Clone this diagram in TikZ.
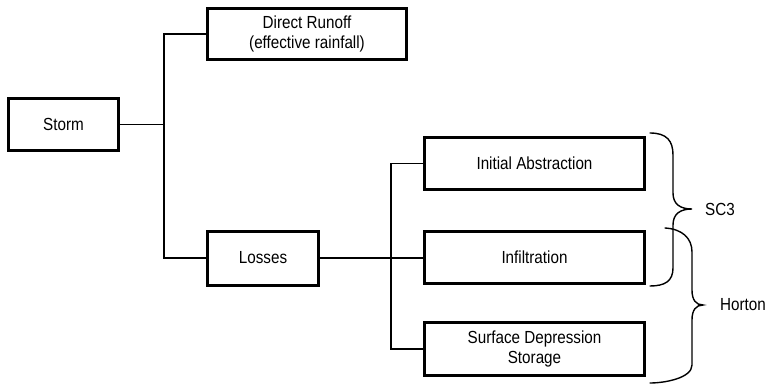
\documentclass[tikz,border=0pt]{standalone}
\usepackage{fontspec}
\setmainfont{Liberation Sans}[FakeStretch=0.87]
\begin{document}
\begin{tikzpicture}[x=1pt,y=-1pt,
  box/.style={draw=black,line width=3pt,rectangle,inner sep=0pt,align=center,
    font=\fontsize{17.5}{19.5}\selectfont},
  conn/.style={draw=black,line width=1.4pt},
  brc/.style={draw=black,line width=1.4pt,line cap=round},
  lbl/.style={anchor=west,inner sep=0pt,font=\fontsize{17.5}{19.5}\selectfont}]
\useasboundingbox (0,0) rectangle (766,385);
\node[box,minimum width=110pt,minimum height=52pt] (storm) at (63.5,124.5) {Storm};
\node[box,minimum width=199pt,minimum height=51pt] (runoff) at (307,34) {Direct Runoff\\(effective rainfall)};
\node[box,minimum width=111pt,minimum height=54pt] (losses) at (263,258) {Losses};
\node[box,minimum width=220pt,minimum height=52pt] (initial) at (534.5,163.5) {Initial Abstraction};
\node[box,minimum width=220pt,minimum height=52pt] (infil) at (534.5,257) {Infiltration};
\node[box,minimum width=220pt,minimum height=53pt] (surface) at (534.5,349) {Surface Depression\\Storage};
\coordinate (j1) at (164,124.5);
\coordinate (j2) at (391,258);
\draw[conn] (storm.east) -- (j1);
\draw[conn] (runoff.west) -| (j1) |- (losses.west);
\draw[conn] (losses.east) -- (infil.west |- losses.east);
\draw[conn] (initial.west) -| (j2) |- (surface.west);
% SC3 brace
\draw[brc] (650,133) .. controls (667,133) and (673,141) .. (673,155) -- (673,193)
  .. controls (673,204) and (680,209) .. (692,209)
  .. controls (680,209) and (673,214) .. (673,225) -- (673,268)
  .. controls (673,281) and (665,286) .. (650,286);
\node[lbl] (sc3) at (705,209) {SC3};
% Horton brace
\draw[brc] (665,228) .. controls (682,229) and (692,238) .. (692,252) -- (692,290)
  .. controls (692,300) and (696,305) .. (703,305)
  .. controls (696,305) and (692,310) .. (692,320) -- (692,365)
  .. controls (692,378) and (665,383) .. (650,383);
\node[lbl] (horton) at (720,305) {Horton};
\end{tikzpicture}
\end{document}
